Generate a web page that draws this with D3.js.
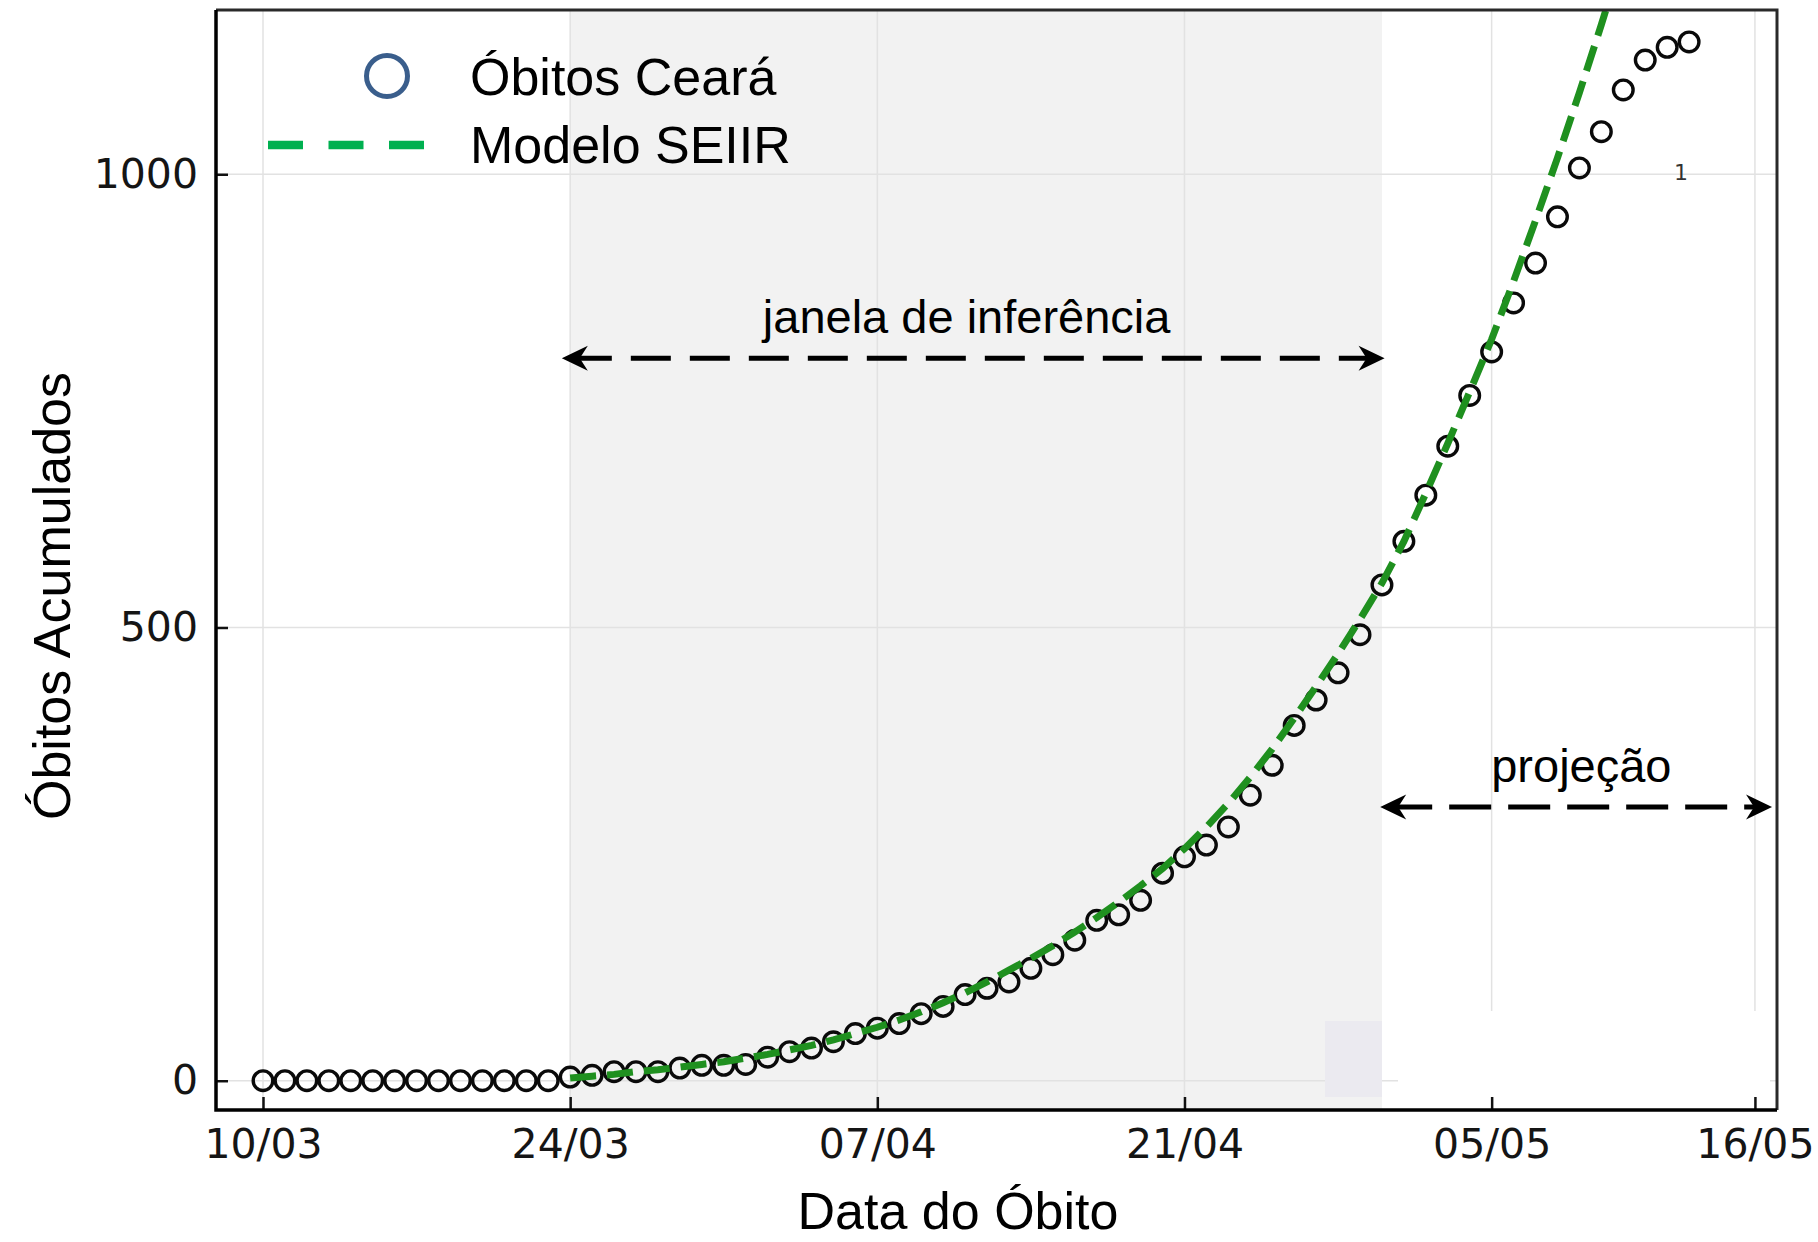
<!DOCTYPE html>
<html>
<head>
<meta charset="utf-8">
<script src="https://cdn.jsdelivr.net/npm/d3@7"></script>
<style>
  html, body { margin: 0; padding: 0; background: #ffffff; }
  svg { display: block; }
</style>
</head>
<body>
<svg id="chart" width="1818" height="1242"></svg>
<script>
// ---------------- DATA ----------------
// Day index counted from 10/03
const obsDays = [0,1,2,3,4,5,6,7,8,9,10,11,12,13,14,15,16,17,18,19,20,21,22,23,24,25,26,27,28,29,30,31,32,33,34,35,36,37,38,39,40,41,42,43,44,45,46,47,48,49,50,51,52,53,54,55,56,57,58,59,60,61,62,63,64,65];
const obsDeaths = [0,0,0,0,0,0,0,0,0,0,0,0,0,0,
  4,6,10,10,10,14,17,17,18,26,
  32,36,43,52,58,63,74,82,95,102,
  109,124,139,155,177,183,199,229,247,260,
  280,315,348,392,420,450,492,547,595,646,
  700,756,804,858,902,953,1007,1047,1093,1126,
  1140,1146];

const modelDays = [14,15,16,17,18,19,20,21,22,23,24,25,26,27,28,29,30,31,32,33,34,35,36,37,38,39,40,41,42,43,44,45,46,47,48,49,50,51,52,53,54,55,56,57,58,59,60,61,62];
const modelDeaths = [3,5,7,10,12,15,18,21,25,29,
  34,39,45,52,59,67,76,86,97,109,
  122,135,149,164,180,197,215,234,256,280,
  306,335,366,400,435,471,509,549,595,648,
  703,760,818,882,949,1018,1090,1165,1243];

const xTickDays = [0,14,28,42,56,68];
const xTickLabels = ["10/03","24/03","07/04","21/04","05/05","16/05"];
const yTicks = [0,500,1000];

const seriesNames = ["Óbitos Ceará","Modelo SEIIR"];

const inferenceWindow = [14, 51];           // shaded span (days)
const annoLabels = ["janela de inferência","projeção"];
const annoFrom   = [13.62, 50.92];          // arrow tips (days)
const annoTo     = [51.12, 68.78];
const annoLevel  = [797, 302];              // arrow height (deaths)
const annoTextDay   = [32.07, 60.09];
const annoTextLevel = [825, 329.5];
const annoDash = ["40,19","42,17"];

// ---------------- LAYOUT ----------------
const svg = d3.select("#chart");
const L = 216, R = 1777, T = 10, B = 1110;

const x = d3.scaleLinear().domain([-2.142, 69.006]).range([L, R]);
const y = d3.scaleLinear().domain([-32.3, 1181.2]).range([B, T]);

const SANS = "'Liberation Sans', Arial, sans-serif";
const TICKF = "'DejaVu Sans', sans-serif";

svg.append("defs").append("clipPath").attr("id","plotclip")
  .append("rect").attr("x",L).attr("y",T).attr("width",R-L).attr("height",B-T);

// shaded inference window
svg.append("rect")
  .attr("x", x(inferenceWindow[0])).attr("y", T)
  .attr("width", x(inferenceWindow[1]) - x(inferenceWindow[0]))
  .attr("height", B - T)
  .attr("fill", "#f2f2f2");

// grid
const grid = svg.append("g").attr("stroke","#e2e2e2").attr("stroke-width",1.5);
grid.selectAll("line.v").data(xTickDays).join("line").attr("class","v")
  .attr("x1", d => x(d)).attr("x2", d => x(d)).attr("y1", T).attr("y2", B);
grid.selectAll("line.h").data(yTicks).join("line").attr("class","h")
  .attr("x1", L).attr("x2", R).attr("y1", d => y(d)).attr("y2", d => y(d));

// image artefacts of the reference (patches)
svg.append("rect").attr("x",1325).attr("y",1021).attr("width",57).attr("height",76).attr("fill","#ebeaf0");
svg.append("rect").attr("x",1398).attr("y",1011).attr("width",372).attr("height",96).attr("fill","#ffffff");

// observed points
svg.append("g").selectAll("circle").data(obsDays).join("circle")
  .attr("cx", (d) => x(d))
  .attr("cy", (d, i) => y(obsDeaths[i]))
  .attr("r", 9.8)
  .attr("fill", "none")
  .attr("stroke", "#0a0a0a")
  .attr("stroke-width", 3.4);

// model line
const line = d3.line().x((d) => x(d)).y((d, i) => y(modelDeaths[i]));
svg.append("path")
  .datum(modelDays)
  .attr("clip-path","url(#plotclip)")
  .attr("d", line)
  .attr("fill","none")
  .attr("stroke","#1f901f")
  .attr("stroke-width",7)
  .attr("stroke-dasharray","26,11");

// annotations
const ann = svg.append("g");
annoLabels.forEach((lab, i) => {
  const x1 = x(annoFrom[i]), x2 = x(annoTo[i]), yy = y(annoLevel[i]);
  ann.append("line")
    .attr("x1", x1 + 10).attr("x2", x2 - 10).attr("y1", yy).attr("y2", yy)
    .attr("stroke","#000").attr("stroke-width",5)
    .attr("stroke-dasharray", annoDash[i]);
  const head = (tx, dir) => `M${tx},${yy} L${tx+dir*26},${yy-12.5} L${tx+dir*18},${yy} L${tx+dir*26},${yy+12.5} Z`;
  ann.append("path").attr("d", head(x1, 1)).attr("fill","#000");
  ann.append("path").attr("d", head(x2, -1)).attr("fill","#000");
  ann.append("text")
    .attr("x", x(annoTextDay[i])).attr("y", y(annoTextLevel[i]))
    .attr("text-anchor","middle")
    .attr("font-family", SANS).attr("font-size", 47)
    .attr("fill","#000")
    .text(lab);
});

// stray "1" label present in reference
svg.append("text").attr("x",1681).attr("y",180).attr("text-anchor","middle")
  .attr("font-family", TICKF).attr("font-size",22).attr("fill","#333").text("1");

// axes
const gx = svg.append("g").attr("transform", `translate(0,${B})`)
  .call(d3.axisBottom(x).tickValues(xTickDays).tickFormat((d, i) => xTickLabels[i])
    .tickSizeInner(-13).tickSizeOuter(0).tickPadding(19));
gx.select(".domain").remove();
gx.selectAll(".tick line").attr("stroke","#111").attr("stroke-width",2.5);
gx.selectAll(".tick text").attr("font-family", TICKF).attr("font-size", 41).attr("fill","#151515");

const gy = svg.append("g").attr("transform", `translate(${L},0)`)
  .call(d3.axisLeft(y).tickValues(yTicks).tickFormat(d3.format("d"))
    .tickSizeInner(-12).tickSizeOuter(0).tickPadding(18));
gy.select(".domain").remove();
gy.selectAll(".tick line").attr("stroke","#111").attr("stroke-width",2.5);
gy.selectAll(".tick text").attr("font-family", TICKF).attr("font-size", 41).attr("fill","#151515");

// frame
svg.append("path").attr("d", `M${L},${T} L${R},${T} L${R},${B}`)
  .attr("fill","none").attr("stroke","#2a2a2a").attr("stroke-width",3);
svg.append("path").attr("d", `M${L},${T} L${L},${B} L${R},${B}`)
  .attr("fill","none").attr("stroke","#000").attr("stroke-width",3.5);

// axis labels
svg.append("text").attr("x", 958).attr("y", 1229).attr("text-anchor","middle")
  .attr("font-family", SANS).attr("font-size", 52).attr("fill","#000").text("Data do Óbito");
svg.append("text").attr("transform","translate(70,596) rotate(-90)").attr("text-anchor","middle")
  .attr("font-family", SANS).attr("font-size", 52).attr("fill","#000").text("Óbitos Acumulados");

// legend
const lg = svg.append("g");
lg.append("circle").attr("cx",387).attr("cy",76).attr("r",20.5)
  .attr("fill","none").attr("stroke","#3a5e8c").attr("stroke-width",5);
lg.append("line").attr("x1",268).attr("x2",424).attr("y1",145).attr("y2",145)
  .attr("stroke","#00b050").attr("stroke-width",8.5).attr("stroke-dasharray","35,25.5");
lg.selectAll("text").data(seriesNames).join("text")
  .attr("x",470).attr("y",(d,i) => [95,163][i])
  .attr("font-family", SANS).attr("font-size", 52).attr("fill","#000")
  .text(d => d);
</script>
</body>
</html>
